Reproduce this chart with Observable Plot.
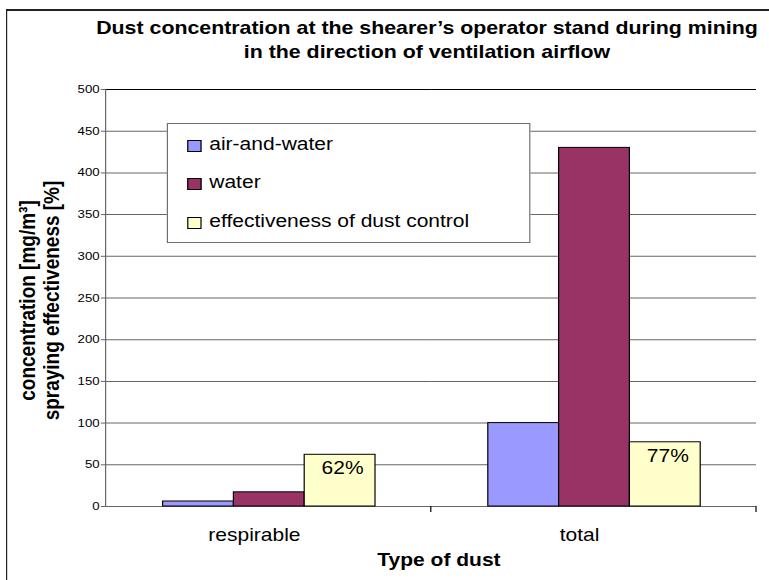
<!DOCTYPE html>
<html>
<head>
<meta charset="utf-8">
<script src="https://cdn.jsdelivr.net/npm/d3@7"></script>
<script src="https://cdn.jsdelivr.net/npm/@observablehq/plot@0.6"></script>
<style>
  html, body { margin: 0; padding: 0; background: #fff; overflow: hidden; }
  #wrap { position: relative; width: 641px; height: 580px; transform: scaleX(1.2); transform-origin: 0 0;
          font-family: "Liberation Sans", Arial, sans-serif; color: #000; }
  #wrap svg { position: absolute; left: 0; top: 0; }
  .abs { position: absolute; white-space: nowrap; }
</style>
</head>
<body>
<div id="wrap"></div>
<script>
// ---- data ----
const categories = ["respirable", "total"];
const series = ["air-and-water", "water", "effectiveness of dust control"];
const airAndWater = [6, 100];
const water = [17, 430];
const effectiveness = [62, 77];
const effectivenessLabels = ["62%", "77%"];
const yTicks = [0, 50, 100, 150, 200, 250, 300, 350, 400, 450, 500];
const seriesColors = ["#9999ff", "#993366", "#ffffcc"];
const titleLines = ["Dust concentration at the shearer\u2019s operator stand during mining", "in the direction of ventilation airflow"];
const yTitleLines = ["concentration [mg/m\u00b3]", "spraying effectiveness [%]"];
const xTitle = "Type of dust";

const valuesBySeries = [airAndWater, water, effectiveness];
const rows = [];
categories.forEach((c, i) => series.forEach((s, j) => rows.push({category: c, series: s, value: valuesBySeries[j][i]})));
const labelRows = categories.map((c, i) => ({category: c, series: series[2], value: effectiveness[i], label: effectivenessLabels[i]}));

const wrap = document.getElementById("wrap");

const chart = Plot.plot({
  width: 641, height: 580,
  marginTop: 89, marginBottom: 74, marginLeft: 87.5, marginRight: 10.2,
  style: {fontFamily: "Liberation Sans, Arial, sans-serif", background: "transparent", color: "#000", overflow: "visible"},
  fx: {domain: categories, paddingInner: 0, paddingOuter: 0},
  x: {domain: series, paddingInner: 0, paddingOuter: 0.773, axis: null},
  y: {domain: [0, 500]},
  color: {domain: series, range: seriesColors},
  marks: [
    Plot.ruleY(yTicks.slice(0, -1), {stroke: "#666"}),
    Plot.ruleY(yTicks.slice(-1), {stroke: "#000"}),
    Plot.barY(rows, {fx: "category", x: "series", y: "value", fill: "series", stroke: "#000", strokeWidth: 1}),
    Plot.text(labelRows, {fx: "category", x: "series", y: "value", text: "label", lineAnchor: "top", dy: 7, dx: 2, fontSize: 17.5, fill: "#000"}),
    Plot.axisY({ticks: yTicks, tickSize: 4, tickPadding: 1.5, fontSize: 11, stroke: "#666", label: null, tickFormat: d => String(d)}),
    Plot.axisFx({anchor: "bottom", tickSize: 0, tickPadding: 22, fontSize: 17.5, label: null, dx: -12})
  ]
});
wrap.appendChild(chart);

// extra axis line and category separator ticks, placed with the library's own scales
const svgEl = chart.tagName.toLowerCase() === "svg" ? chart : chart.querySelector("svg");
const svg = d3.select(svgEl);
const fx = chart.scale("fx"), y = chart.scale("y");
const y0 = y.apply(0), yTop = y.apply(500);
const bw = fx.bandwidth;
const leftX = fx.apply(categories[0]);
svg.append("line").attr("x1", leftX).attr("x2", leftX).attr("y1", yTop).attr("y2", y0 + 0.5)
  .attr("stroke", "#666");
categories.forEach(c => {
  const xx = fx.apply(c) + bw;
  svg.append("line").attr("x1", xx).attr("x2", xx).attr("y1", y0).attr("y2", y0 + 6).attr("stroke", "#000");
});

// title
const title = document.createElement("div");
title.className = "abs";
Object.assign(title.style, {left: "5.8px", top: "17.2px", width: "700px", textAlign: "center",
  fontWeight: "bold", fontSize: "17.8px", lineHeight: "23.5px"});
title.innerHTML = titleLines.join("<br>");
wrap.appendChild(title);

// y title (rotated)
const yt = document.createElement("div");
yt.className = "abs";
Object.assign(yt.style, {left: (33 - 200) + "px", top: (300 - 19.5) + "px", width: "400px", height: "39px",
  textAlign: "center", fontWeight: "bold", fontSize: "19px", lineHeight: "19.5px", transform: "rotate(-90deg)"});
yt.innerHTML = yTitleLines.join("<br>");
wrap.appendChild(yt);

// x title
const xt = document.createElement("div");
xt.className = "abs";
Object.assign(xt.style, {left: "265.8px", top: "550px", width: "200px", textAlign: "center",
  fontWeight: "bold", fontSize: "17.5px", lineHeight: "20px"});
xt.textContent = xTitle;
wrap.appendChild(xt);

// legend
const lg = document.createElement("div");
lg.className = "abs";
Object.assign(lg.style, {left: "139.4px", top: "122.7px", width: "302.5px", height: "120px",
  border: "1px solid #707070", background: "#fff", boxSizing: "border-box"});
series.forEach((s, i) => {
  const row = document.createElement("div");
  Object.assign(row.style, {position: "absolute", left: "16px", top: (21.3 + i * 38.5 - 10 - 1) + "px", height: "20px",
    display: "flex", alignItems: "center", whiteSpace: "nowrap"});
  const sw = document.createElement("span");
  Object.assign(sw.style, {display: "inline-block", width: "12px", height: "12px", background: seriesColors[i],
    border: "1px solid #000", boxSizing: "border-box", marginTop: "4px"});
  const tx = document.createElement("span");
  Object.assign(tx.style, {marginLeft: "6px", fontSize: "17.5px", lineHeight: "20px"});
  tx.textContent = s;
  row.appendChild(sw); row.appendChild(tx);
  lg.appendChild(row);
});
wrap.appendChild(lg);

// outer chart border (top and left edges visible in the reference)
const bd = document.createElement("div");
bd.className = "abs";
Object.assign(bd.style, {left: "4.8px", top: "9px", width: "700px", height: "600px",
  borderTop: "2px solid #222", borderLeft: "1.7px solid #222", pointerEvents: "none"});
wrap.appendChild(bd);
</script>
</body>
</html>
